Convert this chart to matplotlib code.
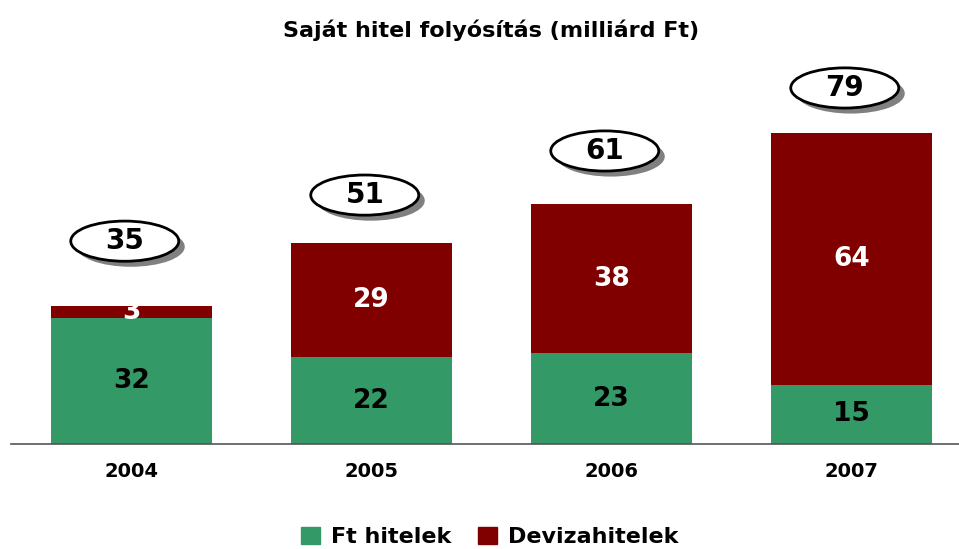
import matplotlib
matplotlib.use("Agg")
import matplotlib.pyplot as plt
from matplotlib.patches import Ellipse, Patch

years = ["2004", "2005", "2006", "2007"]
ft_hitelek = [32, 22, 23, 15]
deviza_hitelek = [3, 29, 38, 64]
totals = [35, 51, 61, 79]

GREEN = "#339966"
RED = "#800000"
plt.rcParams['font.family'] = ['DejaVu Sans']

# gap between bar top and the oval (style only)
oval_gap = [16.5, 12.2, 13.4, 11.4]

fig = plt.figure(figsize=(9.59, 5.49), dpi=100)
ax = fig.add_axes([11 / 959, 105 / 549, 948 / 959, 384 / 549])

x = list(range(len(years)))
ax.bar(x, ft_hitelek, width=0.67, color=GREEN, label="Ft hitelek")
ax.bar(x, deviza_hitelek, width=0.67, bottom=ft_hitelek, color=RED, label="Devizahitelek")

for i in x:
    ax.text(i, ft_hitelek[i] / 2, str(ft_hitelek[i]), ha="center", va="center",
            fontsize=19, fontweight="bold", color="black")
    ax.text(i, ft_hitelek[i] + deviza_hitelek[i] / 2, str(deviza_hitelek[i]),
            ha="center", va="center", fontsize=19, fontweight="bold", color="white")
    cx = i - 0.028
    cy = totals[i] + oval_gap[i]
    ax.add_patch(Ellipse((cx + 0.025, cy - 1.4), 0.45, 10.2, facecolor="#808080",
                         edgecolor="none", zorder=3))
    ax.add_patch(Ellipse((cx, cy), 0.45, 10.2, facecolor="white",
                         edgecolor="black", linewidth=2, zorder=4))
    ax.text(cx, cy, str(totals[i]), ha="center", va="center", fontsize=20,
            fontweight="bold", zorder=5)

ax.set_xlim(-0.502, 3.448)
ax.set_ylim(0, 97.5)
ax.set_xticks(x)
ax.set_xticklabels(years, fontsize=14, fontweight="bold")
ax.tick_params(axis="x", length=0, pad=13)
ax.set_yticks([])
for s in ["top", "right", "left"]:
    ax.spines[s].set_visible(False)
ax.spines["bottom"].set_color("#555555")
ax.spines["bottom"].set_linewidth(1.2)

fig.text(491 / 959, 1 - 30 / 549, "Saját hitel folyósítás (milliárd Ft)", ha="center",
         va="center", fontsize=16, fontweight="bold")

handles = [Patch(color=GREEN), Patch(color=RED)]
fig.legend(handles, ["Ft hitelek", "Devizahitelek"], loc="center",
           bbox_to_anchor=(490 / 959, 1 - 537 / 549), ncol=2, frameon=False,
           prop={"size": 16, "weight": "bold"}, handlelength=0.85, handleheight=0.85,
           handletextpad=0.5, columnspacing=1.2)

fig.savefig("out.png", dpi=100)
